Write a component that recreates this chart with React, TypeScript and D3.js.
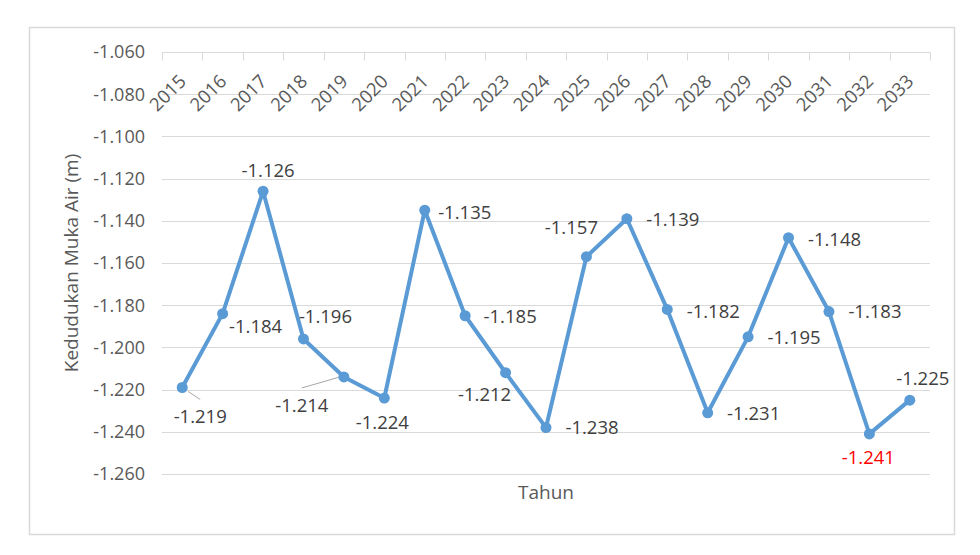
import React, { useEffect, useRef } from 'react'
import * as d3 from 'd3'

const years: string[] = ['2015', '2016', '2017', '2018', '2019', '2020', '2021', '2022', '2023', '2024',
    '2025', '2026', '2027', '2028', '2029', '2030', '2031', '2032', '2033']

const levels: number[] = [-1.219, -1.184, -1.126, -1.196, -1.214, -1.224, -1.135, -1.185, -1.212, -1.238,
    -1.157, -1.139, -1.182, -1.231, -1.195, -1.148, -1.183, -1.241, -1.225]

const yTicks: number[] = [-1.06, -1.08, -1.1, -1.12, -1.14, -1.16, -1.18, -1.2, -1.22, -1.24, -1.26]

// where each data label sits, relative to its point (Excel placed them by hand)
const labelOffsets: [number, number][] = [
    [18, 29], [33, 13], [5, -21], [22, -22], [-42, 29], [-2, 24], [40, 2], [45, 1], [-21, 22], [46, 0],
    [-15, -29], [46, 1], [46, 2], [46, 1], [46, 1], [46, 2], [46, 0], [-1, 24], [13, -22],
]

// labels that got a leader line
const leaders: number[] = [0, 4]

const lowest = d3.min(levels) as number

const W = 980
const H = 555
const margin = { top: 52, right: 50, bottom: 81, left: 162 }
const font = '"Open Sans", sans-serif'

function App() {
    const ref = useRef<SVGSVGElement>(null)

    useEffect(() => {
        const svg = d3.select(ref.current)
        svg.selectAll('*').remove()

        const x = d3.scaleBand<string>().domain(years).range([margin.left, W - margin.right]).padding(0)
        const y = d3.scaleLinear().domain([-1.26, -1.06]).range([H - margin.bottom, margin.top])
        const cx = (i: number) => (x(years[i]) as number) + x.bandwidth() / 2

        svg.append('rect')
            .attr('x', 29.5).attr('y', 27.5).attr('width', 925).attr('height', 507)
            .attr('fill', '#fff').attr('stroke', '#d9d9d9').attr('stroke-width', 1.5)

        // gridlines
        svg.append('g').selectAll('line')
            .data(yTicks)
            .join('line')
            .attr('x1', margin.left).attr('x2', W - margin.right)
            .attr('y1', d => Math.round(y(d)) + 0.5).attr('y2', d => Math.round(y(d)) + 0.5)
            .attr('stroke', '#d9d9d9').attr('stroke-width', 1)

        // y tick labels
        svg.append('g').selectAll('text')
            .data(yTicks)
            .join('text')
            .attr('x', 145).attr('y', d => y(d))
            .attr('dy', '0.35em')
            .attr('text-anchor', 'end')
            .attr('font-family', font).attr('font-size', 18)
            .attr('fill', '#595959')
            .text(d => d.toFixed(3))

        // category axis sits on top (values are negative)
        const top = Math.round(y(-1.06)) + 0.5
        const bounds = years.map(d => x(d) as number).concat([W - margin.right])
        svg.append('g').selectAll('line')
            .data(bounds)
            .join('line')
            .attr('x1', d => Math.round(d) + 0.5).attr('x2', d => Math.round(d) + 0.5)
            .attr('y1', top).attr('y2', top + 8)
            .attr('stroke', '#d9d9d9')

        svg.append('g').selectAll('text')
            .data(years)
            .join('text')
            .attr('transform', (d, i) => `translate(${cx(i) + 5},${top + 30}) rotate(-45)`)
            .attr('text-anchor', 'end')
            .attr('font-family', font).attr('font-size', 18.5)
            .attr('fill', '#595959')
            .text(d => d)

        // axis titles
        svg.append('text')
            .attr('transform', `translate(78,${(margin.top + H - margin.bottom) / 2}) rotate(-90)`)
            .attr('text-anchor', 'middle')
            .attr('font-family', font).attr('font-size', 19)
            .attr('fill', '#595959')
            .text('Kedudukan Muka Air (m)')

        svg.append('text')
            .attr('x', (margin.left + W - margin.right) / 2).attr('y', 499)
            .attr('text-anchor', 'middle')
            .attr('font-family', font).attr('font-size', 19)
            .attr('fill', '#595959')
            .text('Tahun')

        // leader lines
        svg.append('g').selectAll('line')
            .data(leaders)
            .join('line')
            .attr('x1', i => i === 0 ? cx(i) + 6 : cx(i) + labelOffsets[i][0])
            .attr('y1', i => i === 0 ? y(levels[i]) + 4 : y(levels[i]) + labelOffsets[i][1] - 18)
            .attr('x2', i => i === 0 ? cx(i) + labelOffsets[i][0] : cx(i) - 4)
            .attr('y2', i => i === 0 ? y(levels[i]) + labelOffsets[i][1] - 17 : y(levels[i]))
            .attr('stroke', '#a6a6a6').attr('stroke-width', 1)

        const line = d3.line<number>()
            .x((d, i) => cx(i))
            .y(d => y(d))

        svg.append('path')
            .datum(levels)
            .attr('d', line)
            .attr('fill', 'none')
            .attr('stroke', '#5b9bd5').attr('stroke-width', 4)
            .attr('stroke-linejoin', 'round')

        svg.append('g').selectAll('circle')
            .data(levels)
            .join('circle')
            .attr('cx', (d, i) => cx(i)).attr('cy', d => y(d))
            .attr('r', 5.5)
            .attr('fill', '#5b9bd5')

        svg.append('g').selectAll('text')
            .data(levels)
            .join('text')
            .attr('x', (d, i) => cx(i) + labelOffsets[i][0])
            .attr('y', (d, i) => y(d) + labelOffsets[i][1])
            .attr('dy', '0.35em')
            .attr('text-anchor', 'middle')
            .attr('font-family', font).attr('font-size', 18.5)
            .attr('fill', d => d === lowest ? '#ff0000' : '#404040')
            .text(d => d.toFixed(3))
    }, [])

    return <svg ref={ref} width={W} height={H} style={{ position: 'absolute', left: 0, top: 0 }} />
}

export default App
